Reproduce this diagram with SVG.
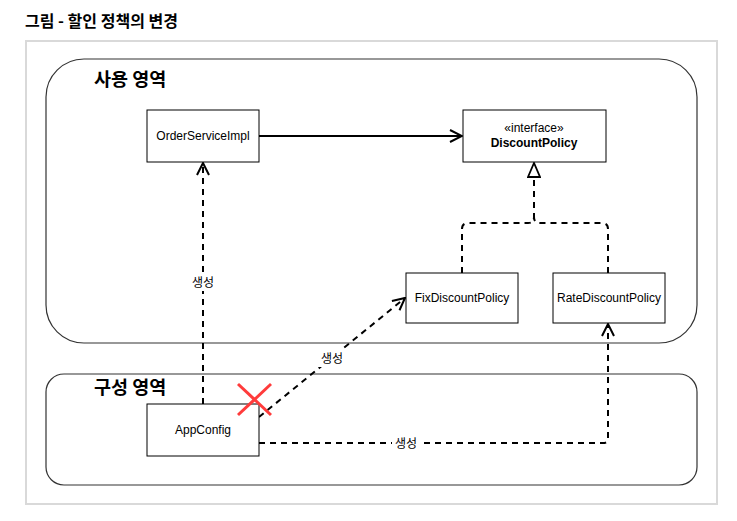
<svg xmlns="http://www.w3.org/2000/svg" width="737" height="521" viewBox="0 0 737 521">
<style>
.node{fill:#fff;stroke:#000;stroke-width:1}
.lbl{font-family:"Liberation Sans",Arial,sans-serif;font-size:12px;fill:#000;text-anchor:middle}
.kr{font-family:"Noto Sans CJK KR","Noto Sans",sans-serif;fill:#000}
.area{fill:none;stroke:#333;stroke-width:1.2}
.dash{fill:none;stroke:#000;stroke-width:2;stroke-dasharray:6 5}
.solid{fill:none;stroke:#000;stroke-width:2}
.bg{fill:#fff}
</style>
<defs>
<marker id="open" viewBox="0 0 14 14" refX="13" refY="7" markerWidth="14" markerHeight="14" markerUnits="userSpaceOnUse" orient="auto">
<path d="M1,1 L13,7 L1,13" fill="none" stroke="#000" stroke-width="2"/>
</marker>
<marker id="tri" viewBox="0 0 16 14" refX="15" refY="7" markerWidth="16" markerHeight="14" markerUnits="userSpaceOnUse" orient="auto">
<path d="M1,1 L15,7 L1,13 Z" fill="#fff" stroke="#000" stroke-width="1.8"/>
</marker>
</defs>
<rect width="737" height="521" fill="#fff"/>
<text x="25" y="27" class="kr" font-size="16" font-weight="bold">그림 - 할인 정책의 변경</text>
<rect x="26" y="41" width="691" height="463" fill="none" stroke="#d9d9d9" stroke-width="2"/>
<g id="area-use">
<rect x="46" y="59" width="651" height="284" rx="38" ry="38" class="area"/>
<text x="94" y="86" class="kr" font-size="18.5" font-weight="bold">사용 영역</text>
</g>
<g id="area-config">
<rect x="46" y="374" width="651" height="111" rx="18" ry="18" class="area"/>
<text x="94" y="394" class="kr" font-size="18.5" font-weight="bold">구성 영역</text>
</g>
<g id="connectors">
<line x1="259" y1="136" x2="462" y2="136" class="solid" marker-end="url(#open)"/>
<path d="M462,273 V229 Q462,223 468,223 H528 Q534,223 534,217 V163" class="dash" marker-end="url(#tri)"/>
<path d="M608,273 V229 Q608,223 602,223 H540 Q534,223 534,217" class="dash"/>
<line x1="203" y1="404" x2="203" y2="163" class="dash" marker-end="url(#open)"/>
<rect x="189" y="274" width="28" height="17" class="bg"/>
<text x="203" y="287" class="kr" font-size="12" text-anchor="middle">생성</text>
<line x1="259" y1="417" x2="405" y2="298" class="dash" marker-end="url(#open)"/>
<rect x="318" y="350" width="28" height="17" class="bg"/>
<text x="332" y="363" class="kr" font-size="12" text-anchor="middle">생성</text>
<path d="M259,443 H603 Q608,443 608,438 V324" class="dash" marker-end="url(#open)"/>
<rect x="392" y="435" width="28" height="17" class="bg"/>
<text x="406" y="448" class="kr" font-size="12" text-anchor="middle">생성</text>
</g>
<g id="OrderServiceImpl">
<rect x="147" y="110" width="112" height="52" class="node"/>
<text x="203" y="140" class="lbl">OrderServiceImpl</text>
</g>
<g id="DiscountPolicy">
<rect x="463" y="110" width="143" height="52" class="node"/>
<text x="534" y="132" class="lbl" font-size="11">«interface»</text>
<text x="534" y="147" class="lbl" font-weight="bold">DiscountPolicy</text>
</g>
<g id="FixDiscountPolicy">
<rect x="406" y="273" width="112" height="50" class="node"/>
<text x="462" y="302" class="lbl">FixDiscountPolicy</text>
</g>
<g id="RateDiscountPolicy">
<rect x="553" y="273" width="112" height="50" class="node"/>
<text x="609" y="302" class="lbl">RateDiscountPolicy</text>
</g>
<g id="AppConfig">
<rect x="147" y="404" width="112" height="52" class="node"/>
<text x="203" y="434" class="lbl">AppConfig</text>
</g>
<g id="cross">
<line x1="238" y1="384" x2="271" y2="415" stroke="#ff3b3b" stroke-width="3"/>
<line x1="271" y1="384" x2="238" y2="415" stroke="#ff3b3b" stroke-width="3"/>
</g>
</svg>
